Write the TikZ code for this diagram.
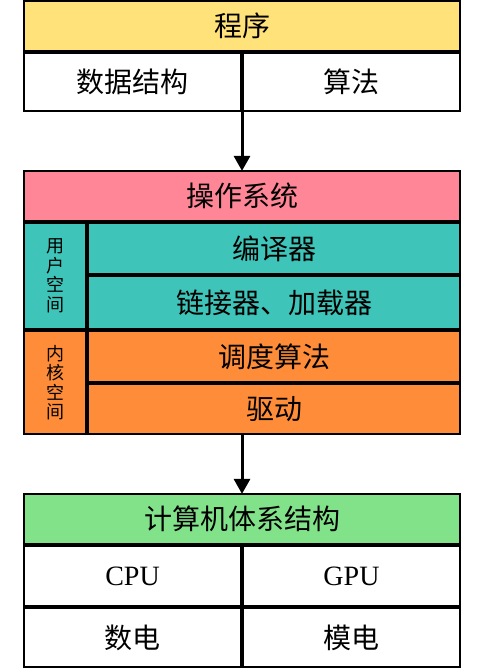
\documentclass[tikz,border=0pt]{standalone}
\usepackage{fontspec}
\setmainfont{Liberation Serif}
\newfontfamily\cjk{Noto Sans CJK SC}
\usetikzlibrary{arrows.meta}

\definecolor{progyellow}{RGB}{255,226,122}
\definecolor{ospink}{RGB}{255,134,150}
\definecolor{userteal}{RGB}{62,196,184}
\definecolor{kernelorange}{RGB}{255,140,56}
\definecolor{archgreen}{RGB}{130,226,138}

\begin{document}
\begin{tikzpicture}[x=1pt,y=1pt,
    cell/.style 2 args={draw=black, line width=1.8pt, inner sep=0pt, outer sep=0pt,
        minimum width=#1pt-1.8pt, minimum height=#2pt-1.8pt,
        font=\fontsize{28}{32}\selectfont},
    side/.style={align=center, font=\cjk\fontsize{18}{19.5}\selectfont},
    flow/.style={line width=3pt, -{Triangle[width=16pt,length=15pt]}}]

    \useasboundingbox (0,0) rectangle (480,-670);

    % programme
    \node[cell={438}{52}, fill=progyellow] (prog) at (242,-26) {\cjk 程序};
    \node[cell={219}{60}, fill=white] (ds) at (132.5,-82) {\cjk 数据结构};
    \node[cell={219}{60}, fill=white] (alg) at (351.5,-82) {\cjk 算法};

    % operating system
    \node[cell={438}{52}, fill=ospink] (os) at (242,-196) {\cjk 操作系统};

    \node[cell={64}{108}, fill=userteal] (user) at (55,-276) {};
    \node[side] at (user) {用\\户\\空\\间};
    \node[cell={374}{53}, fill=userteal] (compiler) at (274,-248.5) {\cjk 编译器};
    \node[cell={374}{55}, fill=userteal] (linker) at (274,-302.5) {\cjk 链接器、加载器};

    \node[cell={64}{105}, fill=kernelorange] (kernel) at (55,-382.5) {};
    \node[side] at (kernel) {内\\核\\空\\间};
    \node[cell={374}{53}, fill=kernelorange] (sched) at (274,-356.5) {\cjk 调度算法};
    \node[cell={374}{52}, fill=kernelorange] (driver) at (274,-409) {\cjk 驱动};

    % architecture
    \node[cell={438}{52}, fill=archgreen] (arch) at (242,-519) {\cjk 计算机体系结构};
    \node[cell={219}{62}, fill=white] (cpu) at (132.5,-576) {CPU};
    \node[cell={219}{62}, fill=white] (gpu) at (351.5,-576) {GPU};
    \node[cell={219}{61}, fill=white] (digital) at (132.5,-637.5) {\cjk 数电};
    \node[cell={219}{61}, fill=white] (analog) at (351.5,-637.5) {\cjk 模电};

    \draw[flow] (ds.south east -| os.north) -- (os.north);
    \draw[flow] (driver.south -| arch.north) -- (arch.north);

\end{tikzpicture}
\end{document}
